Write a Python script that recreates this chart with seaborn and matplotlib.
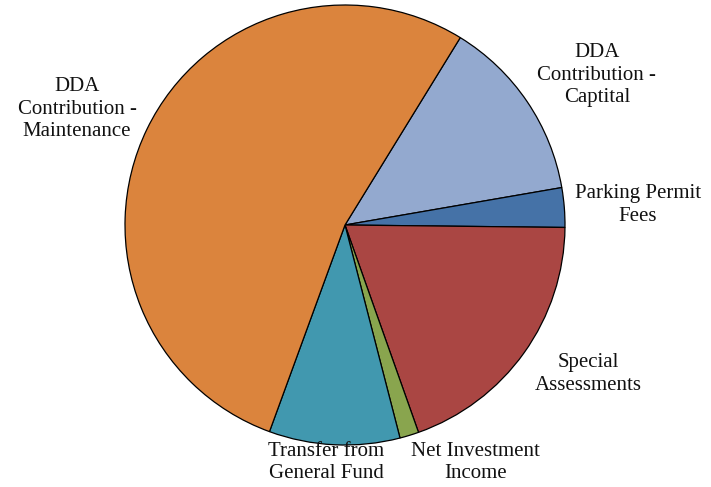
import matplotlib.pyplot as plt
import seaborn as sns

# slices, clockwise from the top-right edge of the big orange slice
labels = ["DDA\nContribution -\nCaptital", "Parking Permit\nFees", "Special\nAssessments",
          "Net Investment\nIncome", "Transfer from\nGeneral Fund", "DDA\nContribution -\nMaintenance"]
values = [13.5, 2.9, 19.4, 1.4, 9.6, 53.2]
colors = ["#93A9CF", "#4572A7", "#AA4643", "#89A54E", "#4198AF", "#DB843D"]

sns.set_theme(style="white")
plt.rcParams["font.family"] = ["Liberation Serif", "DejaVu Serif"]

fig = plt.figure(figsize=(7.11, 4.87), dpi=100)
ax = fig.add_axes([0, 0, 1, 1])

wedges, _ = ax.pie(values, colors=colors, startangle=58.4, counterclock=False,
                   wedgeprops=dict(edgecolor="black", linewidth=0.9))

# label positions in units of the pie radius
label_pos = [(1.145, 0.68), (1.33, 0.09), (1.105, -0.677),
             (0.595, -1.08), (-0.086, -1.08), (-1.218, 0.527)]
for lab, (x, y) in zip(labels, label_pos):
    ax.text(x, y, lab, ha="center", va="center", fontsize=15, color="#111111",
            linespacing=1.25)

ax.set_xlim(-345 / 220, (711 - 345) / 220)
ax.set_ylim(-(487 - 225) / 220, 225 / 220)
ax.set_aspect("auto")
ax.axis("off")

fig.savefig("out.png", dpi=100)
